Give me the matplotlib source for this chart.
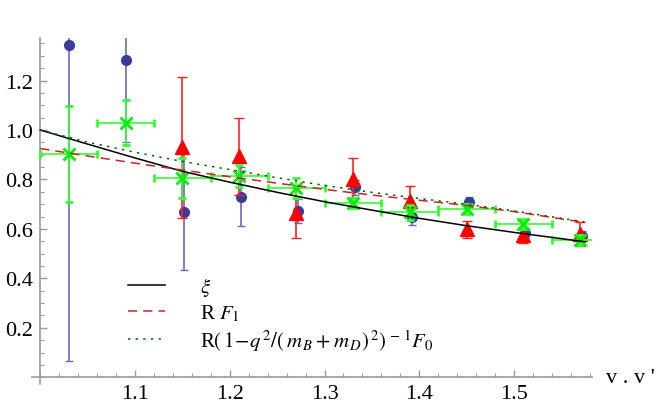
import numpy as np
import matplotlib.pyplot as plt
from matplotlib.ticker import MultipleLocator

plt.rcParams['font.family'] = ['Liberation Serif', 'DejaVu Serif']
plt.rcParams['mathtext.fontset'] = 'stix'

# --- theory curves ---
w_curve = [1.00, 1.05, 1.10, 1.15, 1.20, 1.25, 1.30, 1.35, 1.40, 1.45, 1.50, 1.575]
xi = [1.000, 0.943, 0.887, 0.833, 0.789, 0.748, 0.710, 0.676, 0.643, 0.613, 0.586, 0.548]
rf1 = [0.925, 0.895, 0.866, 0.838, 0.811, 0.785, 0.760, 0.737, 0.716, 0.695, 0.670, 0.626]
rf0 = [1.000, 0.951, 0.910, 0.873, 0.840, 0.807, 0.776, 0.748, 0.723, 0.700, 0.673, 0.628]

# --- data points ---
w_blue = [1.03, 1.09, 1.152, 1.212, 1.272, 1.332, 1.392, 1.452, 1.512, 1.572]
y_blue = [1.344, 1.283, 0.669, 0.731, 0.672, 0.769, 0.650, 0.710, 0.583, 0.572]
e_blue = [1.28, 0.33, 0.236, 0.118, 0.05, 0.03, 0.035, 0.02, 0.02, 0.02]

w_red = [1.15, 1.21, 1.27, 1.33, 1.39, 1.45, 1.51, 1.57]
y_red = [0.930, 0.893, 0.664, 0.800, 0.714, 0.598, 0.575, 0.579]
e_red = [0.285, 0.156, 0.10, 0.088, 0.06, 0.035, 0.03, 0.05]

w_green = [1.03, 1.09, 1.15, 1.21, 1.27, 1.33, 1.39, 1.45, 1.51, 1.57]
y_green = [0.903, 1.030, 0.806, 0.815, 0.765, 0.705, 0.668, 0.680, 0.620, 0.556]
e_green = [0.195, 0.09, 0.08, 0.045, 0.04, 0.02, 0.03, 0.02, 0.02, 0.02]
xe_green = 0.03

fig = plt.figure(figsize=(6.64, 4.14), dpi=100)
ax = fig.add_axes([32/664, 29/414, 560/664, 346/414])

ax.errorbar(w_blue, y_blue, yerr=e_blue, fmt='o', color='#3b3b98', ms=7,
            ecolor='#6a6ab4', elinewidth=1.2, capsize=3, zorder=2)
ax.errorbar(w_red, y_red, yerr=e_red, fmt='^', color='#ff0000', ms=10,
            ecolor='#ff2020', elinewidth=1.2, capsize=3.5, zorder=3)
ax.errorbar(w_green, y_green, yerr=e_green, xerr=xe_green, fmt='x', color='#00ee00',
            ms=9, mew=2, ecolor='#33ff33', elinewidth=1.2, capsize=3, zorder=4)

l1, = ax.plot(w_curve, xi, color='black', lw=1.1, zorder=5)
l2, = ax.plot(w_curve, rf1, color='#cc2222', lw=1.1, dashes=(6, 4), zorder=5)
l3, = ax.plot(w_curve, rf0, color='#006400', lw=1.1, dashes=(1.5, 3.5), zorder=5)

ax.legend([l1, l2, l3],
          [r'$\xi$', r'R $F_1$',
           r'R$(\,1\!-\!q^{\,2}/(\,m_{\,B}+m_{\,D})^{\,2})^{\,-\,1}F_0$'],
          loc='upper left', bbox_to_anchor=(0.152, 0.345), frameon=False,
          fontsize=15, handlelength=1.8, handletextpad=1.7, labelspacing=0.2,
          borderpad=0)

ax.set_xlim(0.9913, 1.5823)
ax.set_ylim(-0.027, 1.372)
for s in ['top', 'right']:
    ax.spines[s].set_visible(False)
ax.spines['left'].set_position(('data', 1.0))
ax.spines['bottom'].set_position(('data', 0.0))
for s in ['left', 'bottom']:
    ax.spines[s].set_color('#999999')
    ax.spines[s].set_linewidth(1.2)

ax.xaxis.set_major_locator(MultipleLocator(0.1))
ax.xaxis.set_minor_locator(MultipleLocator(0.02))
ax.yaxis.set_major_locator(MultipleLocator(0.2))
ax.yaxis.set_minor_locator(MultipleLocator(0.05))
ax.set_xticks([1.1, 1.2, 1.3, 1.4, 1.5])
ax.set_yticks([0.2, 0.4, 0.6, 0.8, 1.0, 1.2])
ax.tick_params(which='both', direction='in', color='#999999', labelsize=16)
ax.tick_params(which='major', length=5, width=1, pad=5)
ax.tick_params(which='minor', length=3, width=0.8)

ax.text(1.597, 0.0, "v . v '", fontsize=16, va='center', ha='left', clip_on=False)

fig.savefig('out.png', dpi=100)
